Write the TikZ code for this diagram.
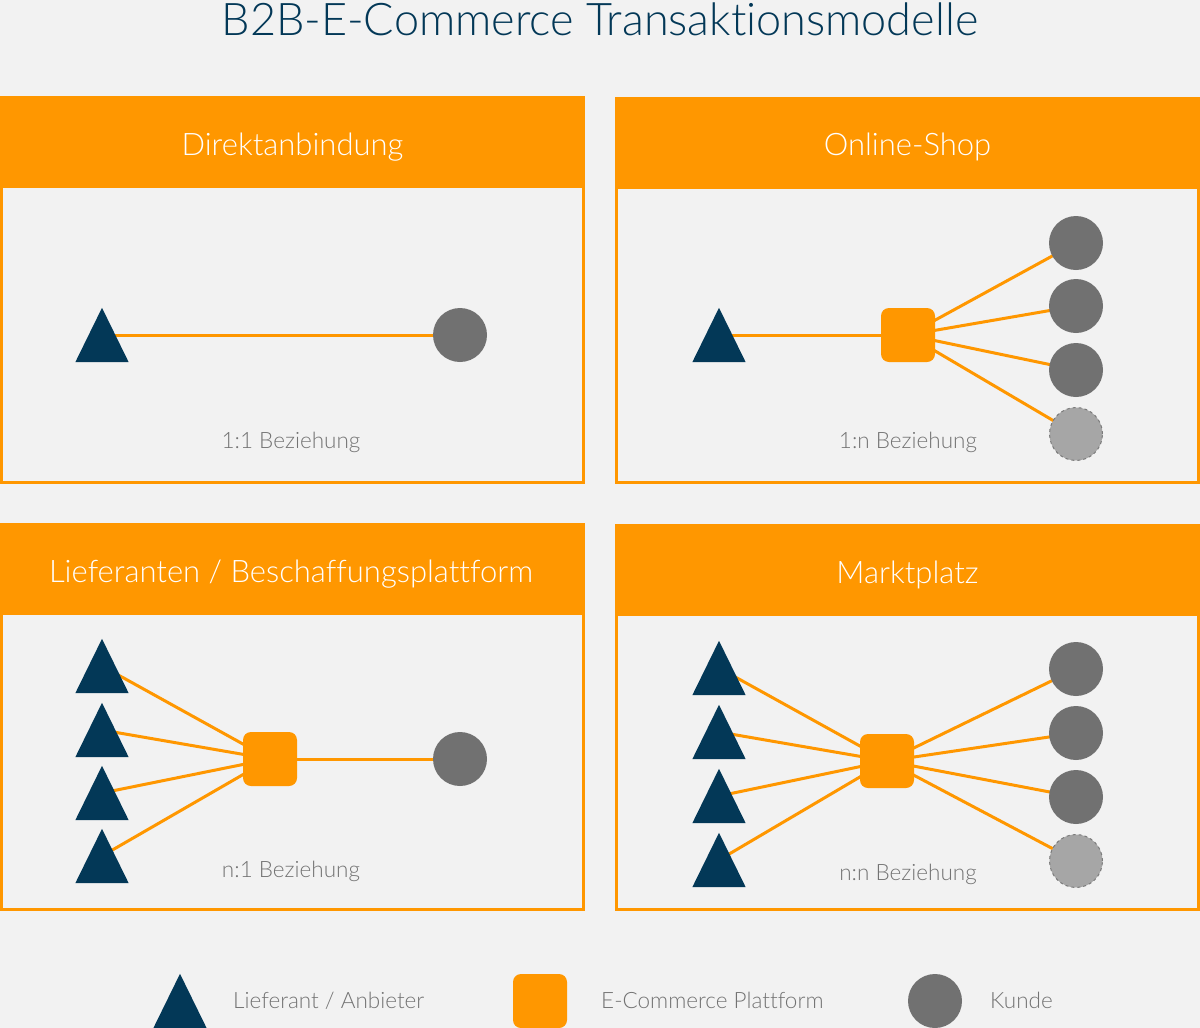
\documentclass[tikz,border=0pt]{standalone}
\usepackage{fontspec}
\setmainfont{Lato Light}[Ligatures=NoCommon]
\definecolor{bgc}{HTML}{F2F2F2}
\definecolor{org}{HTML}{FF9700}
\definecolor{navy}{HTML}{033857}
\definecolor{kgray}{HTML}{717171}
\definecolor{lgray}{HTML}{A6A6A6}
\definecolor{dgray}{HTML}{7A7A7A}
\definecolor{tgray}{HTML}{737373}
\pgfdeclarelayer{bg}
\pgfdeclarelayer{lines}
\pgfsetlayers{bg,lines,main}
\newcommand{\mytri}[3]{\node[trinode] (#1) at (#2,#3) {};}
\newcommand{\filltri}[1]{\fill[navy] (#1.south west) -- (#1.south east) -- (#1.north) -- cycle;}
\begin{document}
\begin{tikzpicture}[x=1pt,y=-1pt,
  hdr/.style={fill=org, draw=none, inner sep=0pt, minimum width=585pt, minimum height=92pt, anchor=north west},
  htext/.style={text=white, inner sep=0pt, anchor=base, font=\fontsize{31}{37}\selectfont},
  ttext/.style={text=navy, inner sep=0pt, anchor=base, font=\fontsize{45}{52}\selectfont},
  rel/.style={text=tgray, inner sep=0pt, anchor=base, font=\fontsize{22.5}{27}\selectfont},
  leg/.style={text=tgray, inner sep=0pt, anchor=base west, font=\fontsize{22.5}{27}\selectfont},
  border/.style={draw=org, line width=3pt},
  conn/.style={draw=org, line width=3pt},
  trinode/.style={inner sep=0pt, minimum width=53pt, minimum height=54pt},
  plat/.style={fill=org, rounded corners=8pt, inner sep=0pt, minimum size=54pt},
  kunde/.style={circle, fill=kgray, inner sep=0pt, minimum size=54pt},
  kundeopt/.style={circle, fill=lgray, draw=dgray, dashed, line width=1pt, inner sep=0pt, minimum size=53pt},
]
\begin{pgfonlayer}{bg}
\fill[bgc] (0,0) rectangle (1200,1028);
\end{pgfonlayer}
\useasboundingbox (0,0) rectangle (1200,1028);

% title
\node[ttext] (title) at (600,35) {B2B-E-Commerce Transaktionsmodelle};

% panel borders
\draw[border] (1.5,188) -- (1.5,482.5) -- (583.5,482.5) -- (583.5,188);
\draw[border] (616.5,188) -- (616.5,482.5) -- (1198.5,482.5) -- (1198.5,188);
\draw[border] (1.5,615) -- (1.5,909.5) -- (583.5,909.5) -- (583.5,615);
\draw[border] (616.5,615) -- (616.5,909.5) -- (1198.5,909.5) -- (1198.5,615);

% headers
\node[hdr] (h1) at (0,96) {};
\node[hdr] (h2) at (615,97) {};
\node[hdr] (h3) at (0,523) {};
\node[hdr] (h4) at (615,524) {};
\node[htext] (ht1) at (292.5,155) {Direktanbindung};
\node[htext] (ht2) at (907.5,155) {Online-Shop};
\node[htext] (ht3) at (291,582) {Lieferanten / Beschaffungsplattform};
\node[htext] (ht4) at (907.5,583) {Marktplatz};

% relation labels
\node[rel] (r1) at (291,448) {1:1 Beziehung};
\node[rel] (r2) at (908,448) {1:n Beziehung};
\node[rel] (r3) at (291,877) {n:1 Beziehung};
\node[rel] (r4) at (908,880) {n:n Beziehung};

% panel 1
\mytri{a1}{102}{335}
\node[kunde] (k1) at (460,335) {};

% panel 2
\mytri{a2}{719}{335}
\node[plat] (p2) at (908,335) {};
\node[kunde] (k2a) at (1076,243) {};
\node[kunde] (k2b) at (1076,306) {};
\node[kunde] (k2c) at (1076,370) {};
\node[kundeopt] (k2d) at (1076,434) {};

% panel 3
\mytri{a3a}{102}{666}
\mytri{a3b}{102}{730}
\mytri{a3c}{102}{793}
\mytri{a3d}{102}{856}
\node[plat] (p3) at (270,759) {};
\node[kunde] (k3) at (460,759) {};

% panel 4
\mytri{a4a}{719}{668}
\mytri{a4b}{719}{732}
\mytri{a4c}{719}{796}
\mytri{a4d}{719}{860}
\node[plat] (p4) at (887,761) {};
\node[kunde] (k4a) at (1076,669) {};
\node[kunde] (k4b) at (1076,733) {};
\node[kunde] (k4c) at (1076,797) {};
\node[kundeopt] (k4d) at (1076,861) {};

% legend
\mytri{l1}{180}{1001}
\node[leg] (lt1) at (233,1008) {Lieferant / Anbieter};
\node[plat] (l2) at (540,1001) {};
\node[leg] (lt2) at (601,1008) {E-Commerce Plattform};
\node[kunde] (l3) at (935,1001) {};
\node[leg] (lt3) at (990,1008) {Kunde};

% connectors
\begin{pgfonlayer}{lines}
\draw[conn] (a1.center) -- (k1.center);
\draw[conn] (a2.center) -- (p2.center);
\foreach \k in {k2a,k2b,k2c,k2d} \draw[conn] (p2.center) -- (\k.center);
\foreach \a in {a3a,a3b,a3c,a3d} \draw[conn] (\a.center) -- (p3.center);
\draw[conn] (p3.center) -- (k3.center);
\foreach \a in {a4a,a4b,a4c,a4d} \draw[conn] (\a.center) -- (p4.center);
\foreach \k in {k4a,k4b,k4c,k4d} \draw[conn] (p4.center) -- (\k.center);
\end{pgfonlayer}

% triangles
\filltri{a1}
\filltri{a2}
\filltri{a3a}
\filltri{a3b}
\filltri{a3c}
\filltri{a3d}
\filltri{a4a}
\filltri{a4b}
\filltri{a4c}
\filltri{a4d}
\filltri{l1}
\end{tikzpicture}
\end{document}
